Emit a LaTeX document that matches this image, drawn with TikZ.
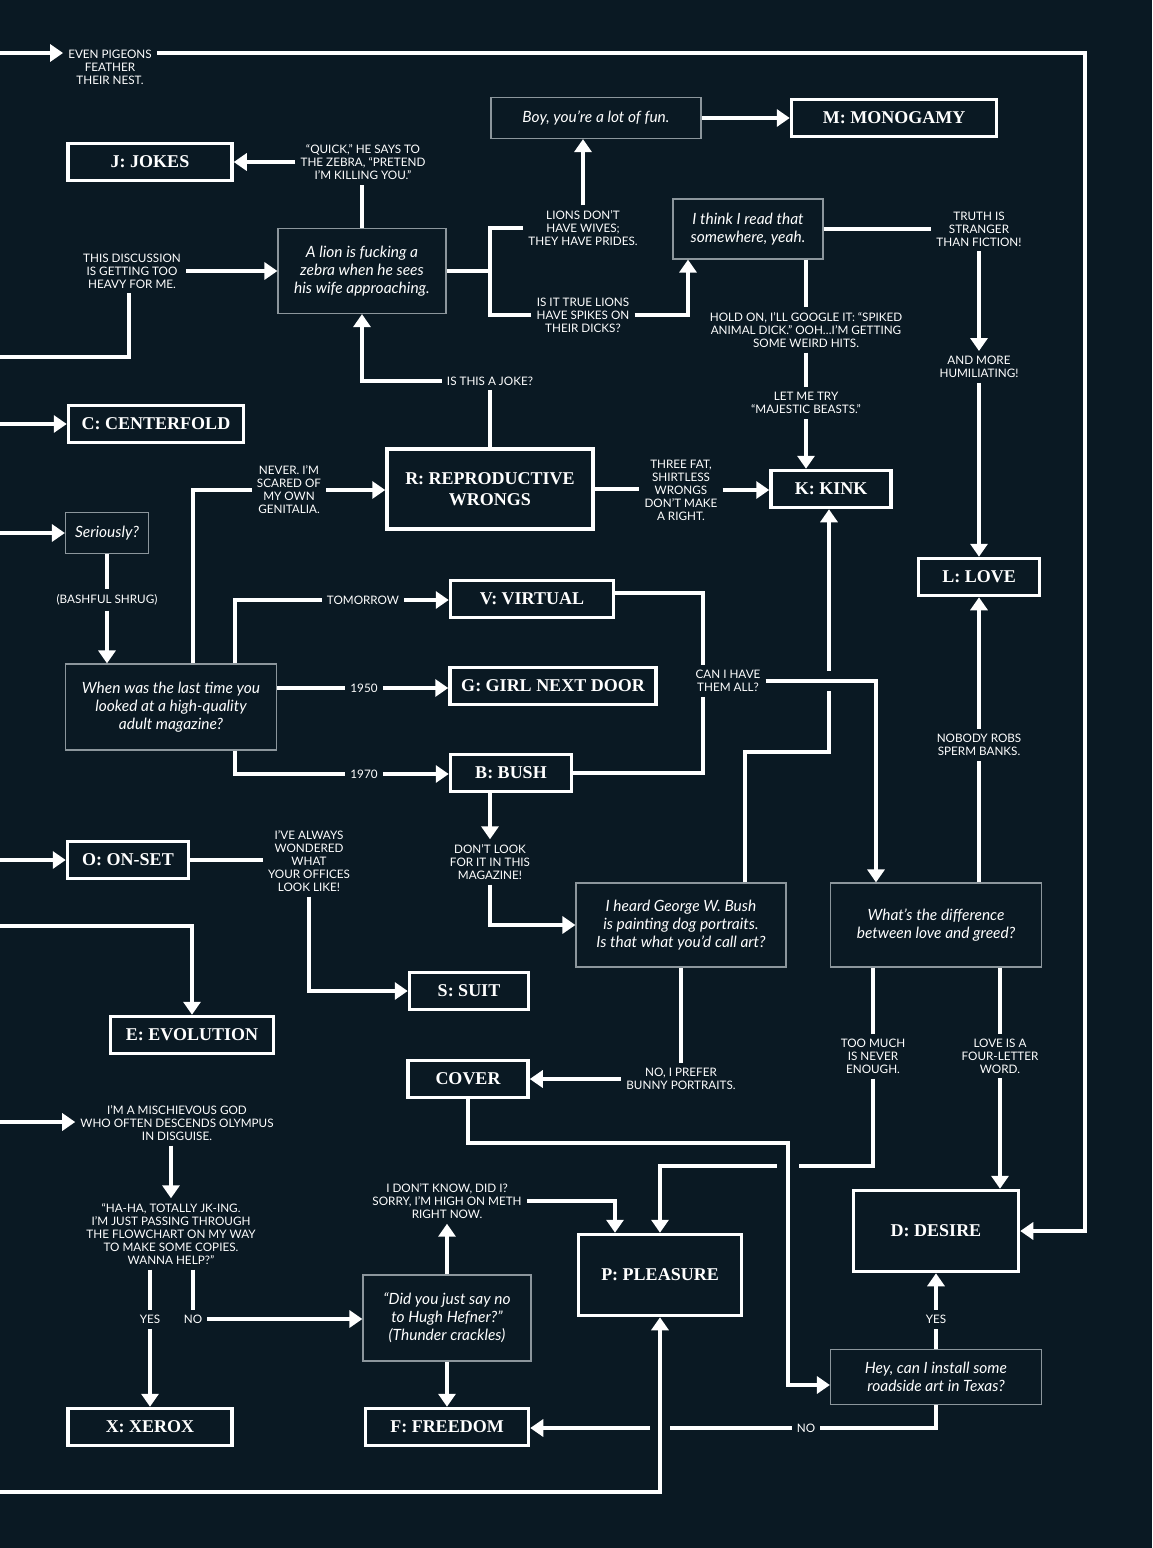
\documentclass[tikz,border=0pt]{standalone}
\usepackage{fontspec}
\setmainfont{Lato}
\newfontfamily\serifb{Liberation Serif}
\usetikzlibrary{arrows.meta}
\definecolor{bg}{RGB}{10,25,35}
\definecolor{thin}{RGB}{140,150,156}
\begin{document}
\begin{tikzpicture}[x=1pt,y=-1pt,
  conn/.style={draw=white, line width=4pt},
  arr/.style={conn, -{Triangle[width=17pt,length=13pt]}},
  lbl/.style={text=white, font=\fontsize{11.7}{13}\selectfont, align=center, inner sep=5pt},
  bbox/.style={draw=white, line width=3.5pt, text=white, font=\serifb\bfseries\fontsize{18}{21}\selectfont, align=center, minimum height=37pt, inner sep=0pt},
  ibox/.style={draw=thin, line width=1.2pt, text=white, font=\itshape\fontsize{15.5}{18}\selectfont, align=center, inner sep=0pt},
  gap/.style={fill=bg}
]
\fill[bg] (0,0) rectangle (1152,1548);
\useasboundingbox (0,0) rectangle (1152,1548);

% ---------- thick boxes ----------
\node[bbox, minimum width=164pt] (J) at (150,162) {J: JOKES};
\node[bbox, minimum width=205pt] (M) at (894,118) {M: MONOGAMY};
\node[bbox, minimum width=175pt] (C) at (156,424) {C: CENTERFOLD};
\node[bbox, minimum width=206pt, minimum height=80pt] (R) at (490,489) {R: REPRODUCTIVE\\WRONGS};
\node[bbox, minimum width=120pt] (K) at (831,489) {K: KINK};
\node[bbox, minimum width=121pt] (L) at (979,577) {L: LOVE};
\node[bbox, minimum width=163pt] (V) at (532,599) {V: VIRTUAL};
\node[bbox, minimum width=206pt] (G) at (553,686) {G: GIRL NEXT DOOR};
\node[bbox, minimum width=121pt] (B) at (511,773) {B: BUSH};
\node[bbox, minimum width=121pt] (O) at (128,860) {O: ON-SET};
\node[bbox, minimum width=119pt] (S) at (469,991) {S: SUIT};
\node[bbox, minimum width=163pt] (E) at (192,1035) {E: EVOLUTION};
\node[bbox, minimum width=120pt] (COVER) at (468,1079) {COVER};
\node[bbox, minimum width=165pt, minimum height=81pt] (D) at (936,1231) {D: DESIRE};
\node[bbox, minimum width=163pt, minimum height=81pt] (P) at (660,1275) {P: PLEASURE};
\node[bbox, minimum width=164pt] (X) at (150,1427) {X: XEROX};
\node[bbox, minimum width=163pt] (F) at (447,1427) {F: FREEDOM};

% ---------- thin italic boxes ----------
\node[ibox, minimum width=210pt, minimum height=41pt] (boy) at (596,118) {Boy, you’re a lot of fun.};
\node[ibox, minimum width=168pt, minimum height=85pt] (lion) at (362,271) {A lion is fucking a\\zebra when he sees\\his wife approaching.};
\node[ibox, minimum width=150pt, minimum height=60pt] (think) at (748,229) {I think I read that\\somewhere, yeah.};
\node[ibox, minimum width=83pt, minimum height=41pt] (ser) at (107,533) {Seriously?};
\node[ibox, minimum width=211pt, minimum height=86pt] (when) at (171,707) {When was the last time you\\looked at a high-quality\\adult magazine?};
\node[ibox, minimum width=210pt, minimum height=84pt] (heard) at (681,925) {I heard George W. Bush\\is painting dog portraits.\\Is that what you’d call art?};
\node[ibox, minimum width=211pt, minimum height=84pt] (diff) at (936,925) {What’s the difference\\between love and greed?};
\node[ibox, minimum width=168pt, minimum height=86pt] (hef) at (447,1318) {“Did you just say no\\to Hugh Hefner?”\\(Thunder crackles)};
\node[ibox, minimum width=211pt, minimum height=55pt] (hey) at (936,1377) {Hey, can I install some\\roadside art in Texas?};

% ---------- labels ----------
\node[lbl] (pig) at (110,67) {EVEN PIGEONS\\FEATHER\\THEIR NEST.};
\node[lbl] (quick) at (363,162) {“QUICK,” HE SAYS TO\\THE ZEBRA, “PRETEND\\I’M KILLING YOU.”};
\node[lbl] (heavy) at (132,271) {THIS DISCUSSION\\IS GETTING TOO\\HEAVY FOR ME.};
\node[lbl] (lions) at (583,228) {LIONS DON’T\\HAVE WIVES;\\THEY HAVE PRIDES.};
\node[lbl] (spikes) at (583,315) {IS IT TRUE LIONS\\HAVE SPIKES ON\\THEIR DICKS?};
\node[lbl] (truth) at (979,229) {TRUTH IS\\STRANGER\\THAN FICTION!};
\node[lbl] (google) at (806,330) {HOLD ON, I’LL GOOGLE IT: “SPIKED\\ANIMAL DICK.” OOH…I’M GETTING\\SOME WEIRD HITS.};
\node[lbl] (humil) at (979,367) {AND MORE\\HUMILIATING!};
\node[lbl] (majestic) at (806,403) {LET ME TRY\\“MAJESTIC BEASTS.”};
\node[lbl] (joke) at (490,381) {IS THIS A JOKE?};
\node[lbl] (never) at (289,490) {NEVER. I’M\\SCARED OF\\MY OWN\\GENITALIA.};
\node[lbl] (three) at (681,490) {THREE FAT,\\SHIRTLESS\\WRONGS\\DON’T MAKE\\A RIGHT.};
\node[lbl] (shrug) at (107,600) {(BASHFUL SHRUG)};
\node[lbl] (tomorrow) at (363,600) {TOMORROW};
\node[lbl] (l1950) at (364,688) {1950};
\node[lbl] (l1970) at (364,774) {1970};
\node[lbl] (canI) at (728,681) {CAN I HAVE\\THEM ALL?};
\node[lbl] (sperm) at (979,745) {NOBODY ROBS\\SPERM BANKS.};
\node[lbl] (offices) at (309,861) {I’VE ALWAYS\\WONDERED\\WHAT\\YOUR OFFICES\\LOOK LIKE!};
\node[lbl] (dontlook) at (490,862) {DON’T LOOK\\FOR IT IN THIS\\MAGAZINE!};
\node[lbl] (bunny) at (681,1079) {NO, I PREFER\\BUNNY PORTRAITS.};
\node[lbl] (toomuch) at (873,1056) {TOO MUCH\\IS NEVER\\ENOUGH.};
\node[lbl] (fourletter) at (1000,1056) {LOVE IS A\\FOUR-LETTER\\WORD.};
\node[lbl] (god) at (177,1123) {I’M A MISCHIEVOUS GOD\\WHO OFTEN DESCENDS OLYMPUS\\IN DISGUISE.};
\node[lbl] (haha) at (171,1234) {“HA-HA, TOTALLY JK-ING.\\I’M JUST PASSING THROUGH\\THE FLOWCHART ON MY WAY\\TO MAKE SOME COPIES.\\WANNA HELP?”};
\node[lbl] (yes1) at (150,1319) {YES};
\node[lbl] (no1) at (193,1319) {NO};
\node[lbl] (meth) at (447,1201) {I DON’T KNOW, DID I?\\SORRY, I’M HIGH ON METH\\RIGHT NOW.};
\node[lbl] (yes2) at (936,1319) {YES};
\node[lbl] (no2) at (806,1428) {NO};

% ---------- free ends ----------
\coordinate (inPig) at (0,53);
\coordinate (inHeavy) at (0,357);
\coordinate (inC) at (0,424);
\coordinate (inSer) at (0,533);
\coordinate (inO) at (0,860);
\coordinate (inE) at (0,926);
\coordinate (inGod) at (0,1122);
\coordinate (inP) at (0,1492);
\coordinate (br) at (490,271);

% ---------- connectors ----------
\draw[arr] (inPig) -- (pig.west |- inPig);
\draw[arr] (pig.east |- inPig) -- (1085,53) |- (D.east);

\draw[conn] (lion.north) -- (lion.north |- quick.south);
\draw[arr] (quick.west) -- (J.east);
\draw[conn] (inHeavy) -| ([xshift=-3pt]heavy.south);
\draw[arr] (heavy.east) -- (lion.west);
\draw[conn] (lion.east) -- (br);
\draw[conn] (lions.west) -| (br) |- (spikes.west);
\draw[arr] (lions.north) -- (boy.south -| lions.north);
\draw[arr] (boy.east) -- (M.west);
\draw[arr] (spikes.east) -| ([xshift=-60pt]think.south);
\draw[conn] (think.east) -- (think.east -| truth.west);
\draw[arr] (truth.south) -- (humil.north);
\draw[arr] (humil.south) -- (L.north);
\draw[conn] ([xshift=58pt]think.south) -- (google.north);
\draw[conn] (google.south) -- (majestic.north);
\draw[arr] (majestic.south) -- ([xshift=-25pt]K.north);
\draw[conn] (R.north) -- (joke.south);
\draw[arr] (joke.west) -| (lion.south);
\draw[arr] (inC) -- (C.west);
\draw[arr] (inSer) -- (ser.west);
\draw[conn] (ser.south) -- (shrug.north);
\draw[arr] (shrug.south) -- (when.north -| shrug.south);
\draw[conn] ([xshift=22pt]when.north) |- (never.west);
\draw[arr] (never.east) -- (R.west |- never.east);
\draw[arr] (three.east) -- (K.west |- three.east);
\draw[conn] (R.east) -- (R.east -| three.west);
\draw[conn] ([xshift=64pt]when.north) |- (tomorrow.west);
\draw[arr] (tomorrow.east) -- (V.west |- tomorrow.east);
\draw[conn] (when.east |- l1950) -- (l1950.west);
\draw[arr] (l1950.east) -- (G.west |- l1950.east);
\draw[conn] ([xshift=64pt]when.south) |- (l1970.west);
\draw[arr] (l1970.east) -- (B.west |- l1970.east);
\draw[conn] ([yshift=6pt]V.east) -| ([xshift=-25pt]canI.north);
\draw[conn] ([xshift=-25pt]canI.south) |- (B.east);
\draw[arr] ([xshift=64pt]heard.north) |- (829,752) -- ([xshift=-2pt]K.south);
\fill[gap] (822,671) rectangle (836,691);
\draw[arr] (canI.east) -| ([xshift=-60pt]diff.north);
\draw[conn] ([xshift=43pt]diff.north) -- (sperm.south);
\draw[arr] (sperm.north) -- (L.south);
\draw[arr] ([xshift=-21pt]B.south) -- (dontlook.north);
\draw[arr] (dontlook.south) |- (heard.west);
\draw[conn] (heard.south) -- (bunny.north);
\draw[arr] (bunny.west) -- (COVER.east |- bunny.west);
\draw[conn] ([xshift=-63pt]diff.south) -- (toomuch.north);
\draw[arr] (toomuch.south) |- (660,1166) -- (P.north);
\fill[gap] (777,1159) rectangle (799,1173);
\draw[arr] (COVER.south) |- (788,1143) |- ([yshift=-8pt]hey.west);
\draw[conn] ([xshift=64pt]diff.south) -- (fourletter.north);
\draw[arr] (fourletter.south) -- ([xshift=64pt]D.north);
\draw[arr] (inO) -- (O.west);
\draw[conn] (O.east) -- (offices.west |- O.east);
\draw[arr] (offices.south) |- (S.west);
\draw[arr] (inE) -| (E.north);
\draw[arr] (inGod) -- (god.west |- inGod);
\draw[arr] ([xshift=-6pt]god.south) -- ([xshift=-6pt]god.south |- haha.north);
\draw[conn] ([xshift=-21pt]haha.south) -- (yes1.north);
\draw[arr] (yes1.south) -- (X.north);
\draw[conn] ([xshift=22pt]haha.south) -- (no1.north);
\draw[arr] (no1.east) -- (hef.west |- no1.east);
\draw[arr] (hef.north) -- (meth.south);
\draw[arr] (meth.east) -| ([xshift=-45pt]P.north);
\draw[arr] (hef.south) -- (F.north);
\draw[conn] (hey.north) -- (yes2.south);
\draw[arr] (yes2.north) -- (D.south);
\draw[conn] (hey.south) |- (no2.east);
\draw[arr] (no2.west) -- (F.east |- no2.west);
\fill[gap] (650,1421) rectangle (670,1435);
\draw[arr] (inP) -| (P.south);
\end{tikzpicture}
\end{document}
